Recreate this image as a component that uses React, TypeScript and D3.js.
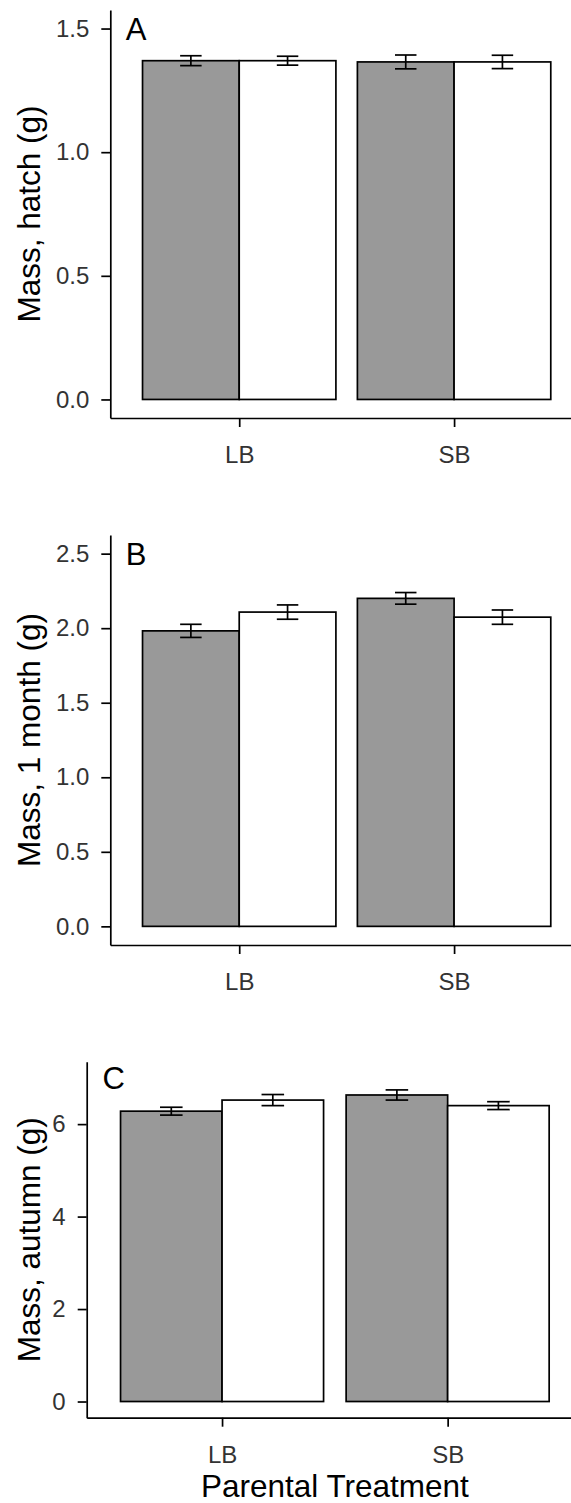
import { useEffect, useRef } from "react";
import { select, scaleLinear, scaleBand, axisLeft, axisBottom, format } from "d3";

// Parental treatment on the x axis, two offspring groups inside each
const parentalTreatment = ["LB", "SB"];
const offspringGroup = ["grey", "white"];
const groupFill: Record<string, string> = { grey: "#999999", white: "#ffffff" };

// Means and SE, ordered LB-grey, LB-white, SB-grey, SB-white
const hatchMean = [1.37, 1.37, 1.365, 1.365];
const hatchSE = [0.02, 0.018, 0.028, 0.027];
const monthMean = [1.982, 2.108, 2.2, 2.074];
const monthSE = [0.044, 0.048, 0.039, 0.048];
const autumnMean = [6.28, 6.52, 6.63, 6.4];
const autumnSE = [0.085, 0.12, 0.11, 0.085];

// y tick values
const hatchTicks = [0, 0.5, 1.0, 1.5];
const monthTicks = [0, 0.5, 1.0, 1.5, 2.0, 2.5];
const autumnTicks = [0, 2, 4, 6];

const FONT = "'Liberation Sans', Arial, Helvetica, sans-serif";
const W = 571;
const H = 1503;
const RIGHT = 583; // plot panel runs past the right edge of the picture
const LW = 1.7;

const panels = [
  { tag: "A", title: "Mass, hatch (g)", mean: hatchMean, se: hatchSE, ymax: 1.5, ticks: hatchTicks, fmt: ".1f", top: 10, bottom: 418, left: 110.3 },
  { tag: "B", title: "Mass, 1 month (g)", mean: monthMean, se: monthSE, ymax: 2.5, ticks: monthTicks, fmt: ".1f", top: 535, bottom: 945, left: 110.3 },
  { tag: "C", title: "Mass, autumn (g)", mean: autumnMean, se: autumnSE, ymax: 7, ticks: autumnTicks, fmt: "d", top: 1061.7, bottom: 1417.7, left: 86.7 },
];

const App = () => {
  const svgRef = useRef<SVGSVGElement>(null);

  useEffect(() => {
    const svg = select(svgRef.current);
    svg.selectAll("*").remove();

    panels.forEach((p) => {
      const g = svg.append("g");

      // ggplot style: discrete positions 1,2 with 0.6 expansion, y with 5% expansion
      const xScale = scaleLinear().domain([0.4, 2.6]).range([p.left, RIGHT]);
      const unit = xScale(2) - xScale(1);
      const dodge = scaleBand().domain(offspringGroup).range([-0.45, 0.45]);
      const yScale = scaleLinear()
        .domain([-0.05 * p.ymax, 1.05 * p.ymax])
        .range([p.bottom, p.top]);

      const rows = parentalTreatment.flatMap((pt, i) =>
        offspringGroup.map((og, j) => ({
          pt,
          og,
          x: i + 1 + (dodge(og) as number),
          mean: p.mean[i * 2 + j],
          se: p.se[i * 2 + j],
        }))
      );

      // Bars
      g.selectAll("rect")
        .data(rows)
        .join("rect")
        .attr("x", (d) => xScale(d.x))
        .attr("width", dodge.bandwidth() * unit)
        .attr("y", (d) => yScale(d.mean))
        .attr("height", (d) => yScale(0) - yScale(d.mean))
        .attr("fill", (d) => groupFill[d.og])
        .attr("stroke", "#000")
        .attr("stroke-width", LW);

      // Error bars
      const capW = 0.1 * unit;
      const eb = g.selectAll(".eb").data(rows).join("g").attr("class", "eb")
        .attr("stroke", "#000").attr("stroke-width", LW);
      eb.append("line")
        .attr("x1", (d) => xScale(d.x + dodge.bandwidth() / 2))
        .attr("x2", (d) => xScale(d.x + dodge.bandwidth() / 2))
        .attr("y1", (d) => yScale(d.mean - d.se))
        .attr("y2", (d) => yScale(d.mean + d.se));
      [-1, 1].forEach((s) => {
        eb.append("line")
          .attr("x1", (d) => xScale(d.x + dodge.bandwidth() / 2) - capW / 2)
          .attr("x2", (d) => xScale(d.x + dodge.bandwidth() / 2) + capW / 2)
          .attr("y1", (d) => yScale(d.mean + s * d.se))
          .attr("y2", (d) => yScale(d.mean + s * d.se));
      });

      // Y axis
      const yAxis = axisLeft(yScale)
        .tickValues(p.ticks)
        .tickFormat(format(p.fmt) as any)
        .tickSize(9)
        .tickSizeOuter(0)
        .tickPadding(12);
      const ya = g.append("g").attr("transform", `translate(${p.left},0)`).call(yAxis);

      // X axis
      const xAxis = axisBottom(xScale)
        .tickValues([1, 2])
        .tickFormat((d) => parentalTreatment[(d as number) - 1])
        .tickSize(9)
        .tickSizeOuter(0)
        .tickPadding(19);
      const xa = g.append("g").attr("transform", `translate(0,${p.bottom})`).call(xAxis);

      [ya, xa].forEach((a) => {
        a.select(".domain").attr("stroke", "#000").attr("stroke-width", LW);
        a.selectAll(".tick line").attr("stroke", "#000").attr("stroke-width", LW);
        a.selectAll(".tick text")
          .attr("fill", "#333")
          .style("font-family", FONT)
          .style("font-size", "24px");
      });

      // Y title
      g.append("text")
        .attr("transform", `translate(40,${(p.top + p.bottom) / 2}) rotate(-90)`)
        .attr("text-anchor", "middle")
        .style("font-family", FONT)
        .style("font-size", "31.5px")
        .attr("fill", "#000")
        .text(p.title);

      // Panel letter
      g.append("text")
        .attr("x", xScale(0.52))
        .attr("y", yScale(p.ymax))
        .attr("dy", "0.36em")
        .attr("text-anchor", "middle")
        .style("font-family", FONT)
        .style("font-size", "31px")
        .attr("fill", "#000")
        .text(p.tag);
    });

    // X title
    svg.append("text")
      .attr("x", (panels[2].left + RIGHT) / 2)
      .attr("y", 1497)
      .attr("text-anchor", "middle")
      .style("font-family", FONT)
      .style("font-size", "31.5px")
      .attr("fill", "#000")
      .text("Parental Treatment");
  }, []);

  return (
    <div style={{ position: "absolute", left: 0, top: 0, width: W, height: H, overflow: "hidden", background: "#fff" }}>
      <svg ref={svgRef} width={W} height={H} style={{ display: "block" }}></svg>
    </div>
  );
};

export default App;
